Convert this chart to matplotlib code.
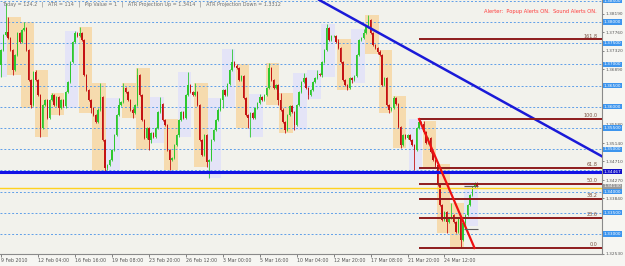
import numpy as np
import pandas as pd
import matplotlib
matplotlib.use('Agg')
import matplotlib.pyplot as plt
from matplotlib.patches import Rectangle

# EURUSD-ish H4 chart, 9 Feb - 26 Mar 2010
first_open = 1.3699
close = [
    1.3734, 1.3769, 1.3776,                          # 9 Feb (12:00 on)
    1.3762, 1.3734, 1.3687, 1.3722, 1.3774, 1.3753,  # 10 Feb
    1.3781, 1.3786, 1.3734, 1.3663, 1.3604, 1.3682,  # 11 Feb
    1.3663, 1.3628, 1.3550, 1.3604, 1.3616, 1.3574,  # 12 Feb
    1.3616,                                          # sun
    1.3628, 1.3604, 1.3623, 1.3597, 1.3616, 1.3602,  # 15 Feb
    1.3635, 1.3659, 1.3706, 1.3753, 1.3774, 1.3767,  # 16 Feb
    1.3774, 1.3758, 1.3675, 1.3640, 1.3616, 1.3597,  # 17 Feb
    1.3581, 1.3564, 1.3593, 1.3623, 1.3522, 1.3456,  # 18 Feb
    1.3463, 1.3475, 1.3498, 1.3534, 1.3581, 1.3604,  # 19 Feb
    1.3611,                                          # sun
    1.3644, 1.3635, 1.3616, 1.3593, 1.3585, 1.3604,  # 22 Feb
    1.3675, 1.3628, 1.3569, 1.3526, 1.3550, 1.3522,  # 23 Feb
    1.3538, 1.3529, 1.3550, 1.3588, 1.3607, 1.3569,  # 24 Feb
    1.3557, 1.3498, 1.3475, 1.3479, 1.3510, 1.3534,  # 25 Feb
    1.3569, 1.3588, 1.3574, 1.3628, 1.3651, 1.3635,  # 26 Feb
    1.3628,                                          # sun
    1.3635, 1.3604, 1.3522, 1.3486, 1.3534, 1.3470,  # 1 Mar
    1.3475, 1.3522, 1.3545, 1.3569, 1.3593, 1.3616,  # 2 Mar
    1.3640, 1.3628, 1.3654, 1.3687, 1.3706, 1.3696,  # 3 Mar
    1.3692, 1.3663, 1.3673, 1.3621, 1.3581, 1.3574,  # 4 Mar
    1.3585, 1.3574, 1.3597, 1.3609, 1.3623, 1.3616,  # 5 Mar
    1.3628,                                          # sun
    1.3644, 1.3692, 1.3663, 1.3644, 1.3651, 1.3616,  # 8 Mar
    1.3593, 1.3564, 1.3545, 1.3581, 1.3602, 1.3588,  # 9 Mar
    1.3557, 1.3604, 1.3635, 1.3659, 1.3668, 1.3644,  # 10 Mar
    1.3628, 1.3640, 1.3659, 1.3668, 1.3677, 1.3675,  # 11 Mar
    1.3706, 1.3734, 1.3786, 1.3758, 1.3767, 1.3767,  # 12 Mar
    1.3753,                                          # sun
    1.3739, 1.3706, 1.3663, 1.3651, 1.3644, 1.3668,  # 15 Mar
    1.3663, 1.3673, 1.3722, 1.3758, 1.3762, 1.3774,  # 16 Mar
    1.3788, 1.3805, 1.3774, 1.3746, 1.3739, 1.3729,  # 17 Mar
    1.3722, 1.3651, 1.3668, 1.3604, 1.3593, 1.3597,  # 18 Mar
    1.3621, 1.3607, 1.3552, 1.3510, 1.3534, 1.3526,  # 19 Mar
    1.3534,                                          # sun
    1.3522, 1.3510, 1.3498, 1.3550, 1.3564, 1.3560,  # 22 Mar
    1.3541, 1.3515, 1.3526, 1.3493, 1.3475, 1.3463,  # 23 Mar
    1.3416, 1.3368, 1.3333, 1.3352, 1.3328, 1.3338,  # 24 Mar
    1.3345, 1.3328, 1.3305, 1.3338, 1.3286, 1.3326,  # 25 Mar
    1.3345, 1.3368, 1.3392, 1.3411, 1.3420, 1.3413,  # 26 Mar
]

# daily range (the boxes), weekdays only
day_high = [1.3845, 1.3812, 1.3800, 1.3687, 1.3633, 1.3779, 1.3788, 1.3656, 1.3621,
            1.3656, 1.3692, 1.3623, 1.3571, 1.3682, 1.3656, 1.3621, 1.3736, 1.3700,
            1.3630, 1.3703, 1.3633, 1.3680, 1.3687, 1.3795, 1.3760, 1.3784, 1.3817,
            1.3733, 1.3626, 1.3571, 1.3566, 1.3465, 1.3373, 1.3423]
day_low = [1.3670, 1.3675, 1.3597, 1.3529, 1.3581, 1.3598, 1.3585, 1.3446, 1.3451,
           1.3574, 1.3498, 1.3515, 1.3451, 1.3528, 1.3458, 1.3432, 1.3597, 1.3550,
           1.3529, 1.3604, 1.3538, 1.3545, 1.3618, 1.3670, 1.3640, 1.3656, 1.3725,
           1.3585, 1.3503, 1.3451, 1.3458, 1.3302, 1.3267, 1.3320]

grid_levels = [1.385, 1.38, 1.375, 1.37, 1.365, 1.36, 1.355, 1.35, 1.345, 1.34, 1.335, 1.33]
boxed_levels = [1.385, 1.38, 1.375, 1.37, 1.365, 1.36, 1.355, 1.35, 1.34, 1.335, 1.33]
axis_ticks = [1.3819, 1.3776, 1.3732, 1.3689, 1.3558, 1.3514, 1.3471, 1.3427, 1.3384, 1.3253]
support = 1.34467
yellow_level = 1.3408
blue_x = [162, 240]
blue_y = [1.3779, 1.3544]
fib_ratios = [0.0, 23.6, 38.2, 50.0, 61.8, 100.0, 161.8]
fib_start = 181
red_x = [181, 205]
atr_up, atr_down = 1.3414, 1.3312
header = ("Today = 124.2   |   ATR = 114   |   Pip Value = 1   |   "
          "ATR Projection Up = 1.3414   |   ATR Projection Down = 1.3312")

times = pd.date_range('2010-02-09 12:00', '2010-03-26 20:00', freq='4h')
times = times[(times.dayofweek < 5) | ((times.dayofweek == 6) & (times.hour == 20))]
df = pd.DataFrame({'time': times, 'close': close})
df['open'] = df['close'].shift(1).fillna(first_open)
df['hi'] = df[['open', 'close']].max(axis=1) + 0.0003
df['lo'] = df[['open', 'close']].min(axis=1) - 0.0003
df['day'] = df['time'].dt.normalize()
df['x'] = np.arange(len(df))

days = df.loc[df['time'].dt.dayofweek < 5, 'day'].unique()
dh = dict(zip(days, day_high))
dl = dict(zip(days, day_low))
for d in days:
    m = df['day'] == d
    df.loc[m, 'hi'] = np.minimum(df.loc[m, 'hi'], dh[d])
    df.loc[m, 'lo'] = np.maximum(df.loc[m, 'lo'], dl[d])
    df.loc[df.loc[m, 'hi'].idxmax(), 'hi'] = dh[d]
    df.loc[df.loc[m, 'lo'].idxmin(), 'lo'] = dl[d]

fig = plt.figure(figsize=(6.25, 2.66), dpi=100, facecolor='#f6f6f2')
ax = fig.add_axes([0, 12 / 266, 602 / 625, 254 / 266])
ax.set_facecolor('#f2f2ec')
ax.set_xlim(-0.45, 260.2)
ax.set_ylim(1.32528, 1.38519)

# daily boxes
for d in days:
    g = df[df['day'] == d]
    up = g['close'].iloc[-1] >= g['open'].iloc[0]
    ax.add_patch(Rectangle((g['x'].iloc[0] - 0.45, dl[d]), len(g) - 0.1, dh[d] - dl[d],
                           facecolor='#e4e4f7' if up else '#f6dbae', edgecolor='none', zorder=1))

for lv in grid_levels:
    ax.axhline(lv, color='#5f9fe8', lw=0.7, ls=(0, (2, 2)), zorder=2)

# candles
up = df['close'] >= df['open']
col = np.where(up, '#2ec82e', '#c41212')
ax.vlines(df['x'], df['lo'], df['hi'], colors=col, lw=0.6, zorder=3)
ax.bar(df['x'], (df['close'] - df['open']).abs().clip(lower=0.00005),
       bottom=df[['open', 'close']].min(axis=1), width=0.6, color=col, zorder=4)

ax.axhline(support, color='#1212e6', lw=2.2, zorder=5)
ax.axhline(yellow_level, color='#ffd21e', lw=1.0, zorder=5)
ax.axline((blue_x[0], blue_y[0]), (blue_x[1], blue_y[1]), color='#1a1ad8', lw=1.8, zorder=5)

# fibonacci
fhi = dh[days[-5]]
flo = dl[days[-2]]
for r in fib_ratios:
    lv = flo + r / 100 * (fhi - flo)
    ax.hlines(lv, fib_start, 260.2, color='#8e1c1c', lw=1.4, zorder=5)
    ax.text(0.993, lv + 0.0002, f'{r:.1f}', transform=ax.get_yaxis_transform(),
            ha='right', va='bottom', fontsize=3.5, color='#7a5040', zorder=6)
ax.plot(red_x, [fhi, flo], color='#ee1111', lw=1.6, zorder=6)

last = df['x'].iloc[-6:]
ax.hlines([atr_up, atr_down], last.min() - 0.4, last.max() + 0.4, color='#606060', lw=0.8, zorder=6)

ax.text(0.003, 0.995, header, transform=ax.transAxes, ha='left', va='top',
        fontsize=3.5, color='#707070')
ax.text(0.992, 0.955, 'Alerter:  Popup Alerts ON.  Sound Alerts ON.', transform=ax.transAxes,
        ha='right', va='center', fontsize=3.7, color='#ff3c3c')

# axes
for s in ['top', 'left']:
    ax.spines[s].set_visible(False)
for s in ['right', 'bottom']:
    ax.spines[s].set_color('#8a8a8a')
    ax.spines[s].set_linewidth(0.8)
ax.yaxis.tick_right()
ax.set_yticks(axis_ticks)
ax.set_yticklabels([f'{v:.5f}' for v in axis_ticks])
ax.tick_params(axis='y', length=1.5, width=0.5, pad=1, labelsize=3.1, colors='#555555')

pos = df['x'][::16]
labels = ['9 Feb 2010' if i == 0 else f"{t.day} {t:%b %H:%M}" for i, t in zip(pos, df['time'][::16])]
ax.set_xticks(pos)
ax.set_xticklabels(labels, ha='left')
ax.tick_params(axis='x', length=2, width=0.5, pad=1, labelsize=3.4, colors='#555555')

tr = ax.get_yaxis_transform()
box_kw = dict(transform=tr, ha='left', va='center', fontsize=3.1, color='white', clip_on=False)
for lv in boxed_levels:
    ax.text(1.003, lv, f'{lv:.5f}', **box_kw,
            bbox=dict(boxstyle='square,pad=0.12', fc='#3d95ee', ec='none'))
ax.text(1.003, support, f'{support:.5f}', **box_kw,
        bbox=dict(boxstyle='square,pad=0.12', fc='#1010c8', ec='none'))
ax.text(1.003, df['close'].iloc[-1], f"{df['close'].iloc[-1]:.5f}", **box_kw,
        bbox=dict(boxstyle='square,pad=0.12', fc='#9a9a9a', ec='none'))

fig.savefig('out.png', dpi=100, facecolor=fig.get_facecolor())
